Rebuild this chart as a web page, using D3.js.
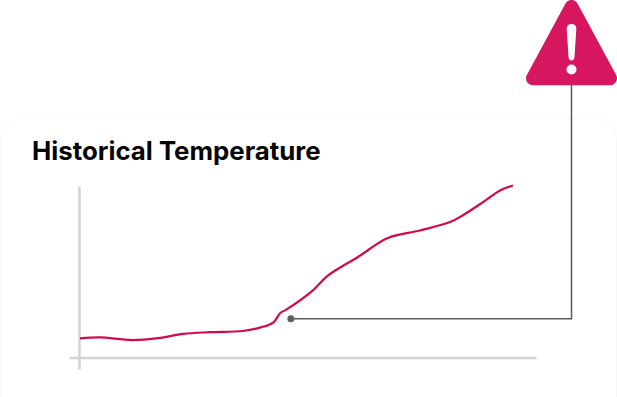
<!DOCTYPE html>
<html>
<head>
<meta charset="utf-8">
<script src="https://cdn.jsdelivr.net/npm/d3@7"></script>
<style>
  html, body { margin: 0; padding: 0; background: #fff; }
  svg { display: block; }
</style>
</head>
<body>
<div id="chart"></div>
<script>
// values (no axis labels, so both axes are on a 0-100 scale)
const chartTitle = 'Historical Temperature';
const timeValues = [0, 4.6, 12, 18.5, 23.8, 30, 37.6, 41.6, 44.7, 46.2, 47.9, 53.8, 57.3, 64.2, 71.1, 78.5, 85.5, 88.5, 93.1, 97, 100];
const tempValues = [10.9, 11.5, 9.9, 11.2, 13.5, 14.5, 15.2, 17.2, 20.3, 25.6, 28.1, 39, 47.7, 58.5, 69.6, 74, 78.9, 83, 90.6, 97.4, 100.3];
const alertTime = [48.7];
const alertTemp = [22.4];

const width = 617, height = 397;

const x = d3.scaleLinear().domain([0, 100]).range([80, 513]);
const y = d3.scaleLinear().domain([0, 100]).range([357, 186]);

const svg = d3.select('#chart').append('svg')
  .attr('width', width)
  .attr('height', height);

// card
svg.append('rect')
  .attr('x', 0.5).attr('y', 118.5)
  .attr('width', width - 1).attr('height', height + 40)
  .attr('rx', 22)
  .attr('fill', '#fff')
  .attr('stroke', '#f8f8f8');

svg.append('text')
  .attr('x', 32).attr('y', 159.5)
  .attr('font-family', 'Inter, sans-serif')
  .attr('font-size', 25.8)
  .attr('font-weight', 700)
  .attr('fill', '#050505')
  .text(chartTitle);

// axes run a little past each other, no ticks
const xAxisScale = x.copy().domain([-2.5, 105.3]).range([x(-2.5), x(105.3)]);
const yAxisScale = y.copy().domain([-7, 100]).range([y(-7), y(100)]);

const xAxis = svg.append('g')
  .attr('transform', `translate(0, ${y(0) + 0.5})`)
  .call(d3.axisBottom(xAxisScale).tickValues([]).tickSizeOuter(0));
const yAxis = svg.append('g')
  .attr('transform', `translate(${x(0) - 1}, 0)`)
  .call(d3.axisLeft(yAxisScale).tickValues([]).tickSizeOuter(0));
svg.selectAll('.domain')
  .attr('stroke', '#d3d3d3')
  .attr('stroke-width', 2.5);

// temperature line
const line = d3.line()
  .x(d => x(d[0]))
  .y(d => y(d[1]))
  .curve(d3.curveCatmullRom.alpha(0.5));

svg.append('path')
  .datum(d3.zip(timeValues, tempValues))
  .attr('fill', 'none')
  .attr('stroke', '#d3084f')
  .attr('stroke-width', 2.2)
  .attr('d', line);

// leader from the marked point up to the warning sign
const signX = 571.5;
svg.append('path')
  .attr('fill', 'none')
  .attr('stroke', '#5a5a5a')
  .attr('stroke-width', 1.5)
  .attr('d', d3.line()([[x(alertTime[0]), y(alertTemp[0])], [signX, y(alertTemp[0])], [signX, 80]]));

svg.append('circle')
  .attr('cx', x(alertTime[0])).attr('cy', y(alertTemp[0]))
  .attr('r', 3.5)
  .attr('fill', '#5f5f5f');

// warning sign
const sign = svg.append('g').attr('transform', `translate(${signX}, 0)`);
sign.append('path')
  .attr('d', 'M0,7 L38.5,78.3 L-38.5,78.3 Z')
  .attr('fill', '#d6175f')
  .attr('stroke', '#d6175f')
  .attr('stroke-width', 14)
  .attr('stroke-linejoin', 'round');
sign.append('path')
  .attr('d', 'M-4.8,29 Q-4.8,24 0,24 Q4.8,24 4.8,29 L3,57 Q2.6,60.5 0,60.5 Q-2.6,60.5 -3,57 Z')
  .attr('fill', '#fff');
sign.append('circle')
  .attr('cx', 0).attr('cy', 69.5)
  .attr('r', 5)
  .attr('fill', '#fff');
</script>
</body>
</html>
